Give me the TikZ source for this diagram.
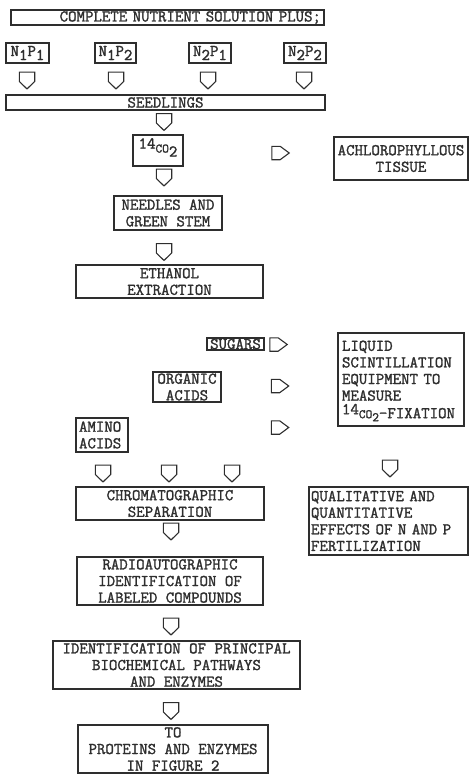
\documentclass[tikz,border=0pt]{standalone}
\usepackage{fontspec}
\newfontfamily\typefont{Latin Modern Mono}[FakeBold=1.6]
\colorlet{myink}{black!82}
\newcommand{\LowDigit}[1]{\raisebox{-4pt}{#1}}
\newcommand{\HighDigit}[1]{\raisebox{4pt}[0pt][0pt]{#1}}
\newcommand{\LowSmall}[1]{\raisebox{-3pt}[0pt][0pt]{\fontsize{13}{13}\selectfont #1}}

\begin{document}
\begin{tikzpicture}[x=1pt,y=-1pt]
\useasboundingbox (0,0) rectangle (471,774);
\tikzset{BoxStyle/.style={draw=myink, line width=1.1pt, inner sep=0pt, text=myink,
  font=\fontsize{16.4}{16.6}\typefont, align=center}}
\tikzset{DownStyle/.style={inner sep=0pt, minimum width=15pt, minimum height=16.5pt,
  append after command={\pgfextra{\draw[myink, line width=1.1pt]
    (\tikzlastnode.north west) -- (\tikzlastnode.north east)
    -- ([yshift=7.5pt]\tikzlastnode.south east) -- (\tikzlastnode.south)
    -- ([yshift=7.5pt]\tikzlastnode.south west) -- cycle;}}}}
\tikzset{RightStyle/.style={inner sep=0pt, minimum width=17pt, minimum height=13pt,
  append after command={\pgfextra{\draw[myink, line width=1.1pt]
    (\tikzlastnode.north west) -- ([xshift=-9pt]\tikzlastnode.north east)
    -- (\tikzlastnode.east) -- ([xshift=-9pt]\tikzlastnode.south east)
    -- (\tikzlastnode.south west) -- cycle;}}}}
% treatments
\node[BoxStyle, text width=307pt, inner xsep=3pt, align=right, minimum height=15pt] (plus) at (167.5,17.5) {COMPLETE NUTRIENT SOLUTION PLUS;};
\node[BoxStyle, minimum width=43pt, minimum height=20pt] (n1p1) at (27.5,53) {N\LowDigit{1}P\LowDigit{1}};
\node[BoxStyle, minimum width=41pt, minimum height=20pt] (n1p2) at (115.5,53) {N\LowDigit{1}P\LowDigit{2}};
\node[BoxStyle, minimum width=42pt, minimum height=20pt] (n2p1) at (210,53) {N\LowDigit{2}P\LowDigit{1}};
\node[BoxStyle, minimum width=42pt, minimum height=20pt] (n2p2) at (305,53) {N\LowDigit{2}P\LowDigit{2}};
\node[DownStyle] (d1) at (27,80.5) {};
\node[DownStyle] (d2) at (116,80.5) {};
\node[DownStyle] (d3) at (208,80.5) {};
\node[DownStyle] (d4) at (304,80.5) {};
\node[BoxStyle, minimum width=319pt, minimum height=15pt] (seed) at (165.5,102.5) {SEEDLINGS};
\node[DownStyle] (d5) at (164,122) {};
% labelling
\node[BoxStyle, minimum width=50pt, minimum height=31pt] (co2) at (158,150.5) {\HighDigit{14}{\fontsize{13}{13}\selectfont CO}\LowDigit{2}};
\node[RightStyle] (r1) at (280.5,153) {};
\node[BoxStyle, minimum width=134pt, minimum height=43pt] (achl) at (401,158.5) {ACHLOROPHYLLOUS\\TISSUE};
\node[DownStyle] (d6) at (164,177.5) {};
\node[BoxStyle, minimum width=108pt, minimum height=34pt] (needle) at (168,213) {NEEDLES AND\\GREEN STEM};
\node[DownStyle] (d7) at (164,252) {};
\node[BoxStyle, minimum width=187pt, minimum height=33pt] (ethanol) at (169.5,281.5) {ETHANOL\\EXTRACTION};
% fractions
\node[BoxStyle, minimum width=57pt, minimum height=12pt] (sugar) at (235.5,344) {SUGARS};
\node[RightStyle] (r2) at (278.5,344.5) {};
\node[BoxStyle, text width=118pt, inner xsep=4pt, align=left, minimum height=93pt] (liquid) at (401,379.5)
  {LIQUID\\SCINTILLATION\\EQUIPMENT TO\\MEASURE\\[1pt]\HighDigit{14}{\fontsize{13}{13}\selectfont CO}\LowSmall{2}-FIXATION};
\node[BoxStyle, minimum width=68pt, minimum height=30pt] (organic) at (187,387) {ORGANIC\\ACIDS};
\node[RightStyle] (r3) at (280,386) {};
\node[RightStyle] (r4) at (280,427.5) {};
\node[BoxStyle, text width=46pt, inner xsep=3pt, align=left, minimum height=34pt] (amino) at (102,435) {AMINO\\ACIDS};
\node[DownStyle] (d8) at (103,473.5) {};
\node[DownStyle] (d9) at (169,473.5) {};
\node[DownStyle] (d10) at (232,473.5) {};
\node[DownStyle] (d11) at (390,468.5) {};
\node[BoxStyle, minimum width=188pt, minimum height=33pt] (chrom) at (170,503.5) {CHROMATOGRAPHIC\\SEPARATION};
\node[BoxStyle, text width=155pt, inner xsep=2pt, align=left, minimum height=68pt] (qual) at (388.5,521)
  {QUALITATIVE AND\\QUANTITATIVE\\EFFECTS OF N AND P\\FERTILIZATION};
% identification
\node[DownStyle] (d12) at (171,531.5) {};
\node[BoxStyle, minimum width=186pt, minimum height=48pt] (radio) at (170,581) {RADIOAUTOGRAPHIC\\IDENTIFICATION OF\\LABELED COMPOUNDS};
\node[DownStyle] (d13) at (171,626.5) {};
\node[BoxStyle, minimum width=247pt, minimum height=48pt] (ident) at (176.5,665) {IDENTIFICATION OF PRINCIPAL\\BIOCHEMICAL PATHWAYS\\AND ENZYMES};
\node[DownStyle] (d14) at (171,711) {};
\node[BoxStyle, minimum width=190pt, minimum height=48pt] (prot) at (173,749) {TO\\PROTEINS AND ENZYMES\\IN FIGURE 2};
\end{tikzpicture}
\end{document}
